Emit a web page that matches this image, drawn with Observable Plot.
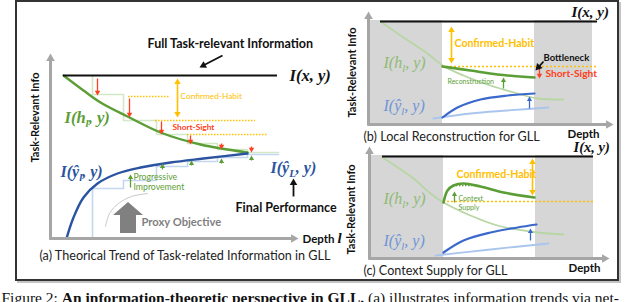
<!DOCTYPE html>
<html><head><meta charset="utf-8">
<script src="https://cdn.jsdelivr.net/npm/d3@7"></script>
<script src="https://cdn.jsdelivr.net/npm/@observablehq/plot@0.6"></script>
<style>body{margin:0;background:#fff}</style>
</head><body><div id="chart"></div>
<script>
// ---------- data (diagram coordinates) ----------
const frameBox = [{x1:16, y1:1, x2:618, y2:280}];
const shadeRects = [
  {x1:368, x2:442, y1:20, y2:123}, {x1:534, x2:592, y1:20, y2:123},
  {x1:369, x2:443, y1:155, y2:257}, {x1:535, x2:593, y1:155, y2:257}
];
const axisArrows = [
  {x1:50, y1:239, x2:50, y2:53}, {x1:49, y1:238, x2:298, y2:238},
  {x1:368, y1:125, x2:368, y2:11}, {x1:367, y1:124, x2:613, y2:124},
  {x1:369, y1:259, x2:369, y2:146}, {x1:368, y1:258, x2:609, y2:258}
];
const infoLines = [{x1:63, x2:277, y:75}, {x1:380, x2:597, y:21}, {x1:382, x2:593, y:156}];

// panel (a)
const hA = [[63,75],[83,90],[100,102],[127,116],[160,132],[200,144],[247,152]];
const yA = [[66,238],[73,217],[83,197],[97,183],[117,173],[140,167],[170,162],[203,158],[247,153]];
const stepsHA = [[92,75],[92,94],[123,94],[123,120],[156,120],[156,134],[187,134],[187,143],[217,143],[217,149],[247,149],[247,152],[278,152]];
const stepsYA = [[92,238],[92,188],[123,188],[123,180],[156,180],[156,166],[187,166],[187,161],[217,161],[217,157],[247,157],[247,154],[278,154]];
const dottedA = [{x1:128, x2:170, y:96}, {x1:155, x2:255, y:120}, {x1:187, x2:267, y:134}];
const proxyArc = [[105,226],[109,213],[118,203],[131,196],[147,193]];
const proxyShape = [{y:202, x1:128, x2:128}, {y:215, x1:113, x2:143}, {y:215, x1:120, x2:136}, {y:233, x1:120, x2:136}];

// panel (b)
const hFadeB = [[380,21],[403,37],[427,53],[442,65],[463,75],[490,85],[517,93],[537,98],[563,99]];
const hB = [[442,66],[470,70],[497,74],[534,77]];
const yB = [[442,117],[457,107],[480,99],[507,95],[534,93]];
const yFadeB = [[433,118],[470,113],[507,110],[548,107]];
const dottedB = [{x1:442, x2:597, y:66}];

// panel (c)
const hFadeC = [[382,157],[413,178],[430,193],[443,202],[470,215],[497,225],[537,232],[563,234]];
const hC = [[443,202],[447,190],[453,185],[463,183],[480,186],[503,192],[534,197]];
const yC = [[443,252],[463,240],[490,232],[517,227],[536,224]];
const yFadeC = [[435,255],[490,249],[548,243]];
const dottedC = [{x1:443, x2:595, y:201}];
const dottedGreenC = [{x1:453, x2:477, y:185}];

// arrows
const redArrows = [
  {x1:97,y1:78,x2:97,y2:95},{x1:129,y1:98,x2:129,y2:117},{x1:161,y1:121,x2:161,y2:134},
  {x1:190,y1:135,x2:190,y2:144},{x1:221,y1:143,x2:221,y2:149},{x1:251,y1:146,x2:251,y2:152},
  {x1:539,y1:66,x2:539,y2:78}
];
const greenArrows = [
  {x1:130,y1:187,x2:130,y2:174},{x1:162,y1:169,x2:162,y2:163},{x1:191,y1:165,x2:191,y2:160},
  {x1:221,y1:163,x2:221,y2:158},{x1:251,y1:160,x2:251,y2:155},
  {x1:503,y1:88,x2:503,y2:77},{x1:454,y1:202,x2:454,y2:191}
];
const blueArrows = [{x1:529,y1:108,x2:529,y2:96},{x1:530,y1:240,x2:530,y2:228}];
const orangeDouble = [{x1:177,y1:78,x2:177,y2:117},{x1:451,y1:26,x2:451,y2:63},{x1:532,y1:158,x2:532,y2:195}];
const blackArrows = [{x1:222,y1:55,x2:199,y2:67},{x1:293,y1:196,x2:293,y2:178},{x1:543,y1:61,x2:535,y2:70}];

// labels
const boldLabels = [{text:"Full Task-relevant Information", x:147, y:43}, {text:"Final Performance", x:235, y:207}];
const proxyLabel = [{text:"Proxy Objective", x:141, y:222}];
const depthLabels = [{text:"Depth", x:302, y:239}, {text:"Depth", x:567, y:134}, {text:"Depth", x:568, y:268}];
const yTitles = [{text:"Task-Relevant Info", x:35, y:117}, {text:"Task-Relevant Info", x:352, y:72}, {text:"Task-Relevant Info", x:351, y:209}];
const captions = [
  {text:"(a) Theorical Trend of Task-related Information in GLL", x:39, y:255},
  {text:"(b) Local Reconstruction for GLL", x:363, y:136},
  {text:"(c) Context Supply for GLL", x:363, y:270}
];
const habitSmall = [{text:"Confirmed-Habit", x:180, y:96}];
const habitBig = [{text:"Confirmed-Habit", x:454, y:43}, {text:"Confirmed-Habit", x:456, y:174}];
const shortSmall = [{text:"Short-Sight", x:172, y:127}];
const shortBig = [{text:"Short-Sight", x:545, y:73}];
const greenSmall = [{text:"Progressive", x:133, y:177}, {text:"Improvement", x:133, y:187}];
const greenTiny = [{text:"Reconstruction", x:447, y:81}, {text:"Context", x:458, y:198}, {text:"Supply", x:458, y:207}];
const bottleneck = [{text:"Bottleneck", x:543, y:57}];
const mathBlack = [{text:"I(x, y)", x:289, y:75, s:16.5}, {text:"I(x, y)", x:571, y:12, s:15}, {text:"I(x, y)", x:573, y:147, s:14.5}];
const mathGreen = [{text:"I(h_{l}, y)", x:64, y:117}];
const mathBlue = [{text:"I(ŷ_{l}, y)", x:60, y:171}, {text:"I(ŷ_{L}, y)", x:270, y:167}];
const mathGreenFade = [{text:"I(h_{l}, y)", x:383, y:62}, {text:"I(h_{l}, y)", x:383, y:198}];
const mathBlueFade = [{text:"I(ŷ_{l}, y)", x:383, y:105}, {text:"I(ŷ_{l}, y)", x:383, y:240}];
const depthL = [{text:"l", x:337, y:238}];
const figCaption = [{text:"Figure 2: **An information-theoretic perspective in GLL.** (a) illustrates information trends via net-", x:1, y:298}];

// ---------- helpers ----------
const col = {green:"#5c9e36", greenLight:"#d3e8c6", greenFade:"#b7d6a4", blue:"#2b53a0", blue2:"#3a68cc",
  blueLight:"#c3d7f0", blueFade:"#aac5ee", orange:"#ffc000", red:"#ff4020", gray:"#a6a6a6", shade:"#d6d6d6"};
const K = 1.555; // tip distance of a d3 triangle symbol in units of r
function headsOf(arrows, r, both=false) {
  const out = [];
  for (const a of arrows) {
    const ends = both ? [[a.x1,a.y1,a.x2,a.y2],[a.x2,a.y2,a.x1,a.y1]] : [[a.x1,a.y1,a.x2,a.y2]];
    for (const [sx,sy,tx,ty] of ends) {
      const dx = tx - sx, dy = ty - sy, L = Math.hypot(dx, dy);
      out.push({x: tx - dx / L * K * r, y: ty - dy / L * K * r, angle: Math.atan2(dx, -dy) * 180 / Math.PI});
    }
  }
  return out;
}
function shaftsOf(arrows, r, both=false) {
  return arrows.map(a => {
    const dx = a.x2 - a.x1, dy = a.y2 - a.y1, L = Math.hypot(dx, dy), k = 1.3 * r / L;
    return {x1: both ? a.x1 + dx * k : a.x1, y1: both ? a.y1 + dy * k : a.y1, x2: a.x2 - dx * k, y2: a.y2 - dy * k};
  });
}
function arrowMarks(arrows, color, r, sw, both=false) {
  return [
    Plot.link(shaftsOf(arrows, r, both), {x1:"x1", y1:"y1", x2:"x2", y2:"y2", stroke:color, strokeWidth:sw}),
    Plot.dot(headsOf(arrows, r, both), {x:"x", y:"y", symbol:"triangle", r, rotate:"angle", fill:color, stroke:"none"})
  ];
}
const line = (pts, stroke, sw, extra={}) => Plot.line(pts, {x: d => d[0], y: d => d[1], stroke, strokeWidth: sw, curve:"catmull-rom", ...extra});
const steps = (pts, stroke) => Plot.line(pts, {x: d => d[0], y: d => d[1], stroke, strokeWidth: 1.6, curve:"linear"});
const txt = (data, o) => Plot.text(data, {x:"x", y:"y", text:"text", textAnchor:"start", ...o});
const SANS = "Lato, 'Open Sans', sans-serif";
const SERIF = "'Liberation Serif', 'DejaVu Serif', serif";

const chart = Plot.plot({
  width: 640, height: 302, margin: 0,
  x: {domain: [0, 640], range: [0, 640], axis: null},
  y: {domain: [0, 302], range: [0, 302], axis: null},
  style: {background: "white", overflow: "hidden"},
  marks: [
    // frame with shadow
    Plot.rect(frameBox, {x1: d => d.x1 + 2, y1: d => d.y1 + 2, x2: d => d.x2 + 2, y2: d => d.y2 + 2, fill: "none", stroke: "#c4c4c4", strokeWidth: 2}),
    Plot.rect(frameBox, {x1:"x1", y1:"y1", x2:"x2", y2:"y2", fill: "white", stroke: "#333", strokeWidth: 2}),
    Plot.rect(shadeRects, {x1:"x1", y1:"y1", x2:"x2", y2:"y2", fill: col.shade}),
    // panel (a)
    steps(stepsHA, col.greenLight),
    steps(stepsYA, col.blueLight),
    Plot.ruleY(dottedA, {y:"y", x1:"x1", x2:"x2", stroke: col.orange, strokeWidth: 1.4, strokeDasharray: "1.5,1.5"}),
    line(proxyArc, "#c8c8c8", 1),
    Plot.areaX(proxyShape, {y:"y", x1:"x1", x2:"x2", fill: "#808080", curve: "linear"}),
    line(hA, col.green, 2.4),
    line(yA, col.blue, 2.4),
    // panel (b)
    line(hFadeB, col.greenFade, 1.8),
    line(yFadeB, col.blueFade, 1.8),
    Plot.ruleY(dottedB, {y:"y", x1:"x1", x2:"x2", stroke: col.orange, strokeWidth: 1.4, strokeDasharray: "2,2"}),
    line(hB, col.green, 2.6),
    line(yB, col.blue2, 2.2),
    // panel (c)
    line(hFadeC, col.greenFade, 1.8),
    line(yFadeC, col.blueFade, 1.8),
    Plot.ruleY(dottedC, {y:"y", x1:"x1", x2:"x2", stroke: col.orange, strokeWidth: 1.4, strokeDasharray: "2,2"}),
    Plot.ruleY(dottedGreenC, {y:"y", x1:"x1", x2:"x2", stroke: col.green, strokeWidth: 1.3, strokeDasharray: "1.5,1.5"}),
    line(hC, col.green, 2.6),
    line(yC, col.blue2, 2.2),
    // full info lines
    Plot.ruleY(infoLines, {y:"y", x1:"x1", x2:"x2", stroke: "#111", strokeWidth: 2}),
    // axes
    ...arrowMarks(axisArrows, col.gray, 3.2, 3),
    // arrows
    ...arrowMarks(redArrows, col.red, 2, 1.3),
    ...arrowMarks(greenArrows, col.green, 1.9, 1.3),
    ...arrowMarks(blueArrows, col.blue2, 1.9, 1.3),
    ...arrowMarks(orangeDouble, col.orange, 2.4, 1.6, true),
    ...arrowMarks(blackArrows, "#111", 2.8, 1.8),
    // text
    txt(boldLabels, {fontFamily: SANS, fontWeight: "bold", fontSize: 12.5, fill: "#111"}),
    txt(proxyLabel, {fontFamily: SANS, fontWeight: "bold", fontSize: 11.2, fill: "#7f7f7f"}),
    txt(depthLabels, {fontFamily: SANS, fontWeight: "bold", fontSize: 11.5, fill: "#111"}),
    txt(yTitles, {fontFamily: SANS, fontWeight: "bold", fontSize: 11, fill: "#111", rotate: -90, textAnchor: "middle"}),
    txt(captions, {fontFamily: SANS, fontSize: 12.6, fill: "#222"}),
    txt(habitSmall, {fontFamily: SANS, fontSize: 8.3, fill: col.orange}),
    txt(habitBig, {fontFamily: SANS, fontWeight: "bold", fontSize: 10.6, fill: col.orange}),
    txt(shortSmall, {fontFamily: SANS, fontWeight: "bold", fontSize: 8.3, fill: col.red}),
    txt(shortBig, {fontFamily: SANS, fontWeight: "bold", fontSize: 10.2, fill: col.red}),
    txt(greenSmall, {fontFamily: SANS, fontSize: 8.7, fill: col.green}),
    txt(greenTiny, {fontFamily: SANS, fontSize: 7, fill: col.green}),
    txt(bottleneck, {fontFamily: SANS, fontWeight: "bold", fontSize: 9.5, fill: "#111"}),
    txt(mathBlack, {fontFamily: SERIF, fontStyle: "italic", fontWeight: "bold", fontSize: "s", fill: "#111"}),
    txt(mathGreen, {fontFamily: SERIF, fontStyle: "italic", fontWeight: "bold", fontSize: 16.5, fill: col.green}),
    txt(mathBlue, {fontFamily: SERIF, fontStyle: "italic", fontWeight: "bold", fontSize: 16, fill: col.blue}),
    txt(mathGreenFade, {fontFamily: SERIF, fontStyle: "italic", fontSize: 16, fill: "#8fbb74"}),
    txt(mathBlueFade, {fontFamily: SERIF, fontStyle: "italic", fontSize: 16, fill: "#6f95d6"}),
    txt(depthL, {fontFamily: SERIF, fontStyle: "italic", fontWeight: "bold", fontSize: 15, fill: "#111"}),
    txt(figCaption, {fontFamily: SERIF, fontSize: 15.5, fill: "#111"})
  ]
});

// subscripts and bold runs inside labels
const NS = "http://www.w3.org/2000/svg";
chart.querySelectorAll("text").forEach(t => {
  const s = t.textContent;
  if (!/_\{|\*\*/.test(s)) return;
  t.textContent = "";
  let shifted = false;
  for (const p of s.split(/(_\{[^}]*\}|\*\*[^*]*\*\*)/).filter(Boolean)) {
    const ts = document.createElementNS(NS, "tspan");
    if (p.startsWith("_{")) {
      ts.textContent = p.slice(2, -1); ts.setAttribute("font-size", "68%"); ts.setAttribute("dy", "4"); shifted = true;
    } else if (p.startsWith("**")) {
      ts.textContent = p.slice(2, -2); ts.setAttribute("font-weight", "bold");
    } else {
      ts.textContent = p; if (shifted) { ts.setAttribute("dy", "-4"); shifted = false; }
    }
    t.appendChild(ts);
  }
});
document.getElementById("chart").append(chart);
</script></body></html>
